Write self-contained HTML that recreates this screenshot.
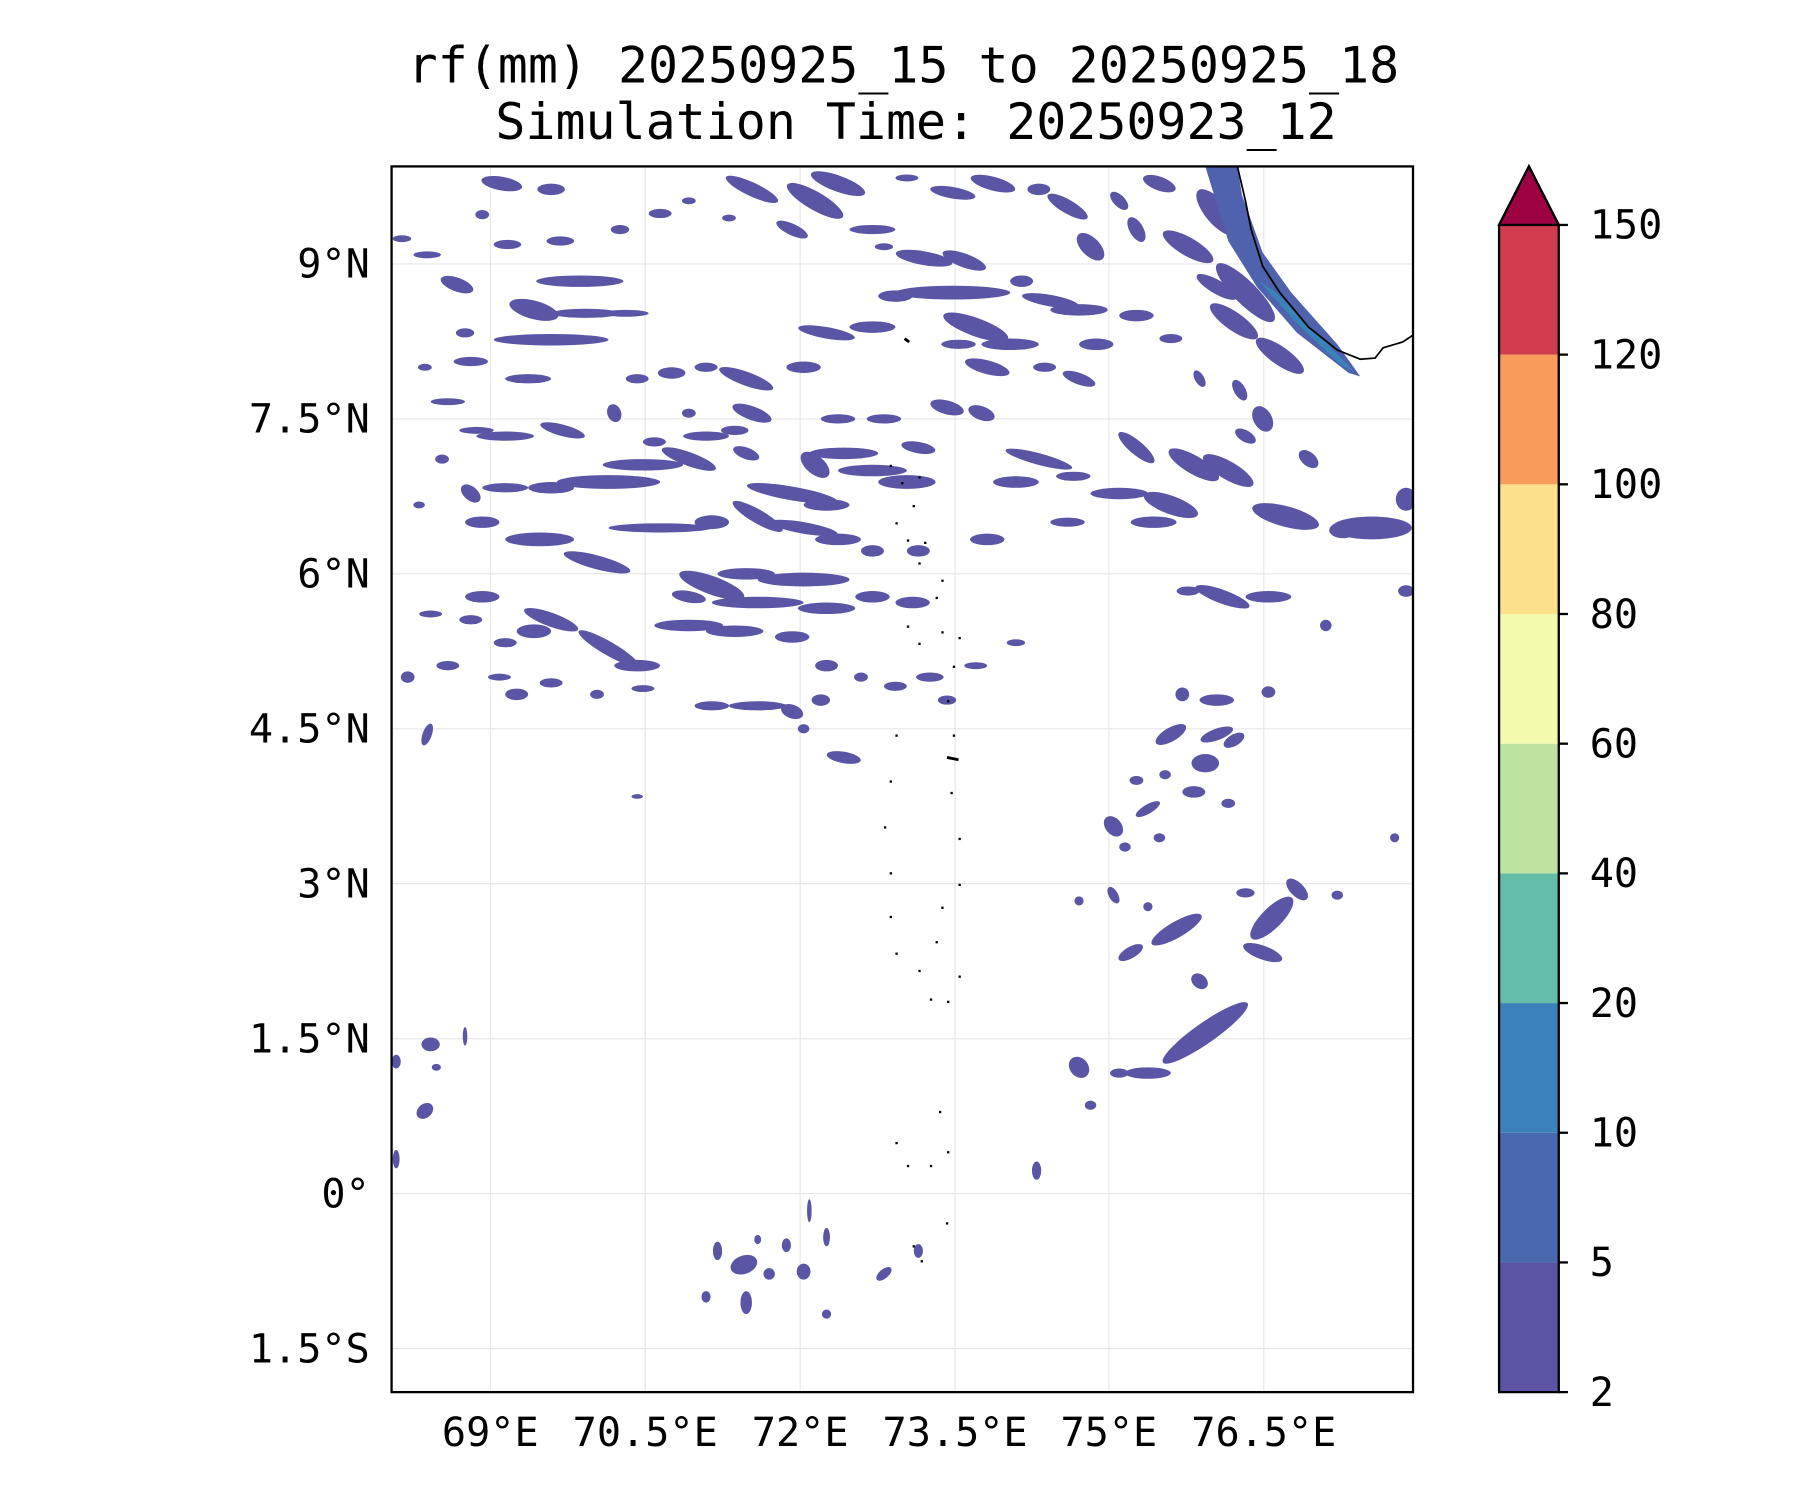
<!DOCTYPE html>
<html><head><meta charset="utf-8"><style>html,body{margin:0;padding:0;background:#fff}svg{display:block}</style></head>
<body>
<svg width="1800" height="1500" viewBox="0 0 1568 1307" xmlns="http://www.w3.org/2000/svg" font-family="'DejaVu Sans Mono','Liberation Mono',monospace">
<defs><clipPath id="c"><rect x="341" y="145" width="890" height="1068"/></clipPath></defs>
<text x="787" y="72" font-size="43.5" text-anchor="middle">rf(mm) 20250925_15 to 20250925_18</text>
<text x="798" y="121" font-size="43.5" text-anchor="middle">Simulation Time: 20250923_12</text>
<g stroke="#e6e6e6" stroke-width="1">
<line x1="427" y1="145" x2="427" y2="1213"/><line x1="562" y1="145" x2="562" y2="1213"/><line x1="697" y1="145" x2="697" y2="1213"/><line x1="832" y1="145" x2="832" y2="1213"/><line x1="966" y1="145" x2="966" y2="1213"/><line x1="1101" y1="145" x2="1101" y2="1213"/>
<line x1="341" y1="230" x2="1231" y2="230"/><line x1="341" y1="365" x2="1231" y2="365"/><line x1="341" y1="500" x2="1231" y2="500"/><line x1="341" y1="635" x2="1231" y2="635"/><line x1="341" y1="770" x2="1231" y2="770"/><line x1="341" y1="905" x2="1231" y2="905"/><line x1="341" y1="1040" x2="1231" y2="1040"/><line x1="341" y1="1175" x2="1231" y2="1175"/>
</g>
<g clip-path="url(#c)" fill="#5a55a5">
<ellipse cx="437" cy="160" rx="18" ry="6" transform="rotate(10 437 160)"/>
<ellipse cx="480" cy="165" rx="12" ry="5"/>
<ellipse cx="420" cy="187" rx="6" ry="4"/>
<ellipse cx="350" cy="208" rx="8" ry="3"/>
<ellipse cx="372" cy="222" rx="12" ry="3"/>
<ellipse cx="398" cy="248" rx="15" ry="6" transform="rotate(20 398 248)"/>
<ellipse cx="442" cy="213" rx="12" ry="4"/>
<ellipse cx="488" cy="210" rx="12" ry="4"/>
<ellipse cx="505" cy="245" rx="38" ry="5"/>
<ellipse cx="465" cy="270" rx="22" ry="8" transform="rotate(15 465 270)"/>
<ellipse cx="510" cy="273" rx="30" ry="4"/>
<ellipse cx="545" cy="273" rx="20" ry="3"/>
<ellipse cx="480" cy="296" rx="50" ry="5"/>
<ellipse cx="575" cy="186" rx="10" ry="4"/>
<ellipse cx="540" cy="200" rx="8" ry="4"/>
<ellipse cx="600" cy="175" rx="6" ry="3"/>
<ellipse cx="635" cy="190" rx="6" ry="3"/>
<ellipse cx="655" cy="165" rx="25" ry="6" transform="rotate(25 655 165)"/>
<ellipse cx="710" cy="175" rx="28" ry="8" transform="rotate(30 710 175)"/>
<ellipse cx="690" cy="200" rx="15" ry="5" transform="rotate(25 690 200)"/>
<ellipse cx="730" cy="160" rx="25" ry="7" transform="rotate(20 730 160)"/>
<ellipse cx="760" cy="200" rx="20" ry="4"/>
<ellipse cx="790" cy="155" rx="10" ry="3"/>
<ellipse cx="830" cy="168" rx="20" ry="5" transform="rotate(10 830 168)"/>
<ellipse cx="865" cy="160" rx="20" ry="6" transform="rotate(15 865 160)"/>
<ellipse cx="905" cy="165" rx="10" ry="5"/>
<ellipse cx="805" cy="225" rx="25" ry="6" transform="rotate(10 805 225)"/>
<ellipse cx="840" cy="227" rx="20" ry="6" transform="rotate(20 840 227)"/>
<ellipse cx="770" cy="215" rx="8" ry="3"/>
<ellipse cx="830" cy="255" rx="50" ry="6"/>
<ellipse cx="780" cy="258" rx="15" ry="5"/>
<ellipse cx="890" cy="245" rx="10" ry="5"/>
<ellipse cx="915" cy="262" rx="25" ry="5" transform="rotate(10 915 262)"/>
<ellipse cx="930" cy="180" rx="20" ry="6" transform="rotate(30 930 180)"/>
<ellipse cx="950" cy="215" rx="15" ry="8" transform="rotate(45 950 215)"/>
<ellipse cx="975" cy="175" rx="10" ry="5" transform="rotate(45 975 175)"/>
<ellipse cx="990" cy="200" rx="12" ry="6" transform="rotate(60 990 200)"/>
<ellipse cx="1010" cy="160" rx="15" ry="6" transform="rotate(20 1010 160)"/>
<ellipse cx="1035" cy="215" rx="25" ry="8" transform="rotate(30 1035 215)"/>
<ellipse cx="1060" cy="250" rx="20" ry="6" transform="rotate(30 1060 250)"/>
<ellipse cx="1060" cy="185" rx="25" ry="10" transform="rotate(50 1060 185)"/>
<ellipse cx="1075" cy="280" rx="25" ry="8" transform="rotate(35 1075 280)"/>
<ellipse cx="1115" cy="310" rx="25" ry="8" transform="rotate(35 1115 310)"/>
<ellipse cx="1085" cy="255" rx="35" ry="10" transform="rotate(45 1085 255)"/>
<ellipse cx="850" cy="285" rx="30" ry="8" transform="rotate(20 850 285)"/>
<ellipse cx="860" cy="320" rx="20" ry="6" transform="rotate(15 860 320)"/>
<ellipse cx="880" cy="300" rx="25" ry="5"/>
<ellipse cx="835" cy="300" rx="15" ry="4"/>
<ellipse cx="955" cy="300" rx="15" ry="5"/>
<ellipse cx="940" cy="270" rx="25" ry="5"/>
<ellipse cx="990" cy="275" rx="15" ry="5"/>
<ellipse cx="1020" cy="295" rx="10" ry="4"/>
<ellipse cx="1045" cy="330" rx="8" ry="4" transform="rotate(60 1045 330)"/>
<ellipse cx="1080" cy="340" rx="10" ry="5" transform="rotate(60 1080 340)"/>
<ellipse cx="1100" cy="365" rx="12" ry="8" transform="rotate(60 1100 365)"/>
<ellipse cx="910" cy="320" rx="10" ry="4"/>
<ellipse cx="940" cy="330" rx="15" ry="5" transform="rotate(20 940 330)"/>
<ellipse cx="855" cy="360" rx="12" ry="6" transform="rotate(20 855 360)"/>
<ellipse cx="825" cy="355" rx="15" ry="6" transform="rotate(15 825 355)"/>
<ellipse cx="760" cy="285" rx="20" ry="5"/>
<ellipse cx="720" cy="290" rx="25" ry="5" transform="rotate(10 720 290)"/>
<ellipse cx="700" cy="320" rx="15" ry="5"/>
<ellipse cx="650" cy="330" rx="25" ry="6" transform="rotate(20 650 330)"/>
<ellipse cx="615" cy="320" rx="10" ry="4"/>
<ellipse cx="585" cy="325" rx="12" ry="5"/>
<ellipse cx="555" cy="330" rx="10" ry="4"/>
<ellipse cx="535" cy="360" rx="8" ry="6" transform="rotate(70 535 360)"/>
<ellipse cx="490" cy="375" rx="20" ry="5" transform="rotate(15 490 375)"/>
<ellipse cx="440" cy="380" rx="25" ry="4"/>
<ellipse cx="415" cy="375" rx="15" ry="3"/>
<ellipse cx="390" cy="350" rx="15" ry="3"/>
<ellipse cx="370" cy="320" rx="6" ry="3"/>
<ellipse cx="405" cy="290" rx="8" ry="4"/>
<ellipse cx="410" cy="315" rx="15" ry="4"/>
<ellipse cx="460" cy="330" rx="20" ry="4"/>
<ellipse cx="655" cy="360" rx="18" ry="6" transform="rotate(20 655 360)"/>
<ellipse cx="640" cy="375" rx="12" ry="4"/>
<ellipse cx="615" cy="380" rx="20" ry="4"/>
<ellipse cx="600" cy="360" rx="6" ry="4"/>
<ellipse cx="570" cy="385" rx="10" ry="4"/>
<ellipse cx="730" cy="365" rx="15" ry="4"/>
<ellipse cx="770" cy="365" rx="15" ry="4"/>
<ellipse cx="800" cy="390" rx="15" ry="5" transform="rotate(10 800 390)"/>
<ellipse cx="735" cy="395" rx="30" ry="5"/>
<ellipse cx="710" cy="405" rx="15" ry="8" transform="rotate(40 710 405)"/>
<ellipse cx="650" cy="395" rx="12" ry="5" transform="rotate(20 650 395)"/>
<ellipse cx="600" cy="400" rx="25" ry="6" transform="rotate(20 600 400)"/>
<ellipse cx="560" cy="405" rx="35" ry="5"/>
<ellipse cx="530" cy="420" rx="45" ry="6"/>
<ellipse cx="480" cy="425" rx="20" ry="5"/>
<ellipse cx="440" cy="425" rx="20" ry="4"/>
<ellipse cx="410" cy="430" rx="10" ry="6" transform="rotate(40 410 430)"/>
<ellipse cx="385" cy="400" rx="6" ry="4"/>
<ellipse cx="365" cy="440" rx="5" ry="3"/>
<ellipse cx="420" cy="455" rx="15" ry="5"/>
<ellipse cx="470" cy="470" rx="30" ry="6"/>
<ellipse cx="520" cy="490" rx="30" ry="6" transform="rotate(15 520 490)"/>
<ellipse cx="575" cy="460" rx="45" ry="4"/>
<ellipse cx="620" cy="455" rx="15" ry="6"/>
<ellipse cx="660" cy="450" rx="25" ry="6" transform="rotate(30 660 450)"/>
<ellipse cx="690" cy="430" rx="40" ry="6" transform="rotate(10 690 430)"/>
<ellipse cx="720" cy="440" rx="20" ry="5"/>
<ellipse cx="760" cy="410" rx="30" ry="5"/>
<ellipse cx="790" cy="420" rx="25" ry="6"/>
<ellipse cx="700" cy="460" rx="30" ry="5" transform="rotate(10 700 460)"/>
<ellipse cx="730" cy="470" rx="20" ry="5"/>
<ellipse cx="760" cy="480" rx="10" ry="5"/>
<ellipse cx="800" cy="480" rx="10" ry="5"/>
<ellipse cx="620" cy="510" rx="30" ry="8" transform="rotate(20 620 510)"/>
<ellipse cx="650" cy="500" rx="25" ry="5"/>
<ellipse cx="700" cy="505" rx="40" ry="6"/>
<ellipse cx="600" cy="520" rx="15" ry="5" transform="rotate(10 600 520)"/>
<ellipse cx="660" cy="525" rx="40" ry="5"/>
<ellipse cx="720" cy="530" rx="25" ry="5"/>
<ellipse cx="760" cy="520" rx="15" ry="5"/>
<ellipse cx="795" cy="525" rx="15" ry="5"/>
<ellipse cx="480" cy="540" rx="25" ry="6" transform="rotate(20 480 540)"/>
<ellipse cx="465" cy="550" rx="15" ry="6"/>
<ellipse cx="530" cy="565" rx="30" ry="6" transform="rotate(30 530 565)"/>
<ellipse cx="555" cy="580" rx="20" ry="5"/>
<ellipse cx="600" cy="545" rx="30" ry="5"/>
<ellipse cx="640" cy="550" rx="25" ry="5"/>
<ellipse cx="690" cy="555" rx="15" ry="5"/>
<ellipse cx="420" cy="520" rx="15" ry="5"/>
<ellipse cx="410" cy="540" rx="10" ry="4"/>
<ellipse cx="375" cy="535" rx="10" ry="3"/>
<ellipse cx="440" cy="560" rx="10" ry="4"/>
<ellipse cx="390" cy="580" rx="10" ry="4"/>
<ellipse cx="355" cy="590" rx="6" ry="5"/>
<ellipse cx="435" cy="590" rx="10" ry="3"/>
<ellipse cx="480" cy="595" rx="10" ry="4"/>
<ellipse cx="450" cy="605" rx="10" ry="5"/>
<ellipse cx="520" cy="605" rx="6" ry="4"/>
<ellipse cx="560" cy="600" rx="10" ry="3"/>
<ellipse cx="620" cy="615" rx="15" ry="4"/>
<ellipse cx="660" cy="615" rx="25" ry="4"/>
<ellipse cx="690" cy="620" rx="10" ry="6" transform="rotate(20 690 620)"/>
<ellipse cx="735" cy="660" rx="15" ry="5" transform="rotate(10 735 660)"/>
<ellipse cx="700" cy="635" rx="5" ry="4"/>
<ellipse cx="720" cy="580" rx="10" ry="5"/>
<ellipse cx="715" cy="610" rx="8" ry="5"/>
<ellipse cx="750" cy="590" rx="6" ry="4"/>
<ellipse cx="780" cy="598" rx="10" ry="4"/>
<ellipse cx="810" cy="590" rx="12" ry="4"/>
<ellipse cx="825" cy="610" rx="8" ry="4"/>
<ellipse cx="850" cy="580" rx="10" ry="3"/>
<ellipse cx="885" cy="560" rx="8" ry="3"/>
<ellipse cx="860" cy="470" rx="15" ry="5"/>
<ellipse cx="885" cy="420" rx="20" ry="5"/>
<ellipse cx="905" cy="400" rx="30" ry="5" transform="rotate(15 905 400)"/>
<ellipse cx="935" cy="415" rx="15" ry="4"/>
<ellipse cx="930" cy="455" rx="15" ry="4"/>
<ellipse cx="975" cy="430" rx="25" ry="5"/>
<ellipse cx="1020" cy="440" rx="25" ry="8" transform="rotate(20 1020 440)"/>
<ellipse cx="1005" cy="455" rx="20" ry="5"/>
<ellipse cx="990" cy="390" rx="20" ry="6" transform="rotate(40 990 390)"/>
<ellipse cx="1040" cy="405" rx="25" ry="8" transform="rotate(30 1040 405)"/>
<ellipse cx="1070" cy="410" rx="25" ry="8" transform="rotate(30 1070 410)"/>
<ellipse cx="1085" cy="380" rx="10" ry="5" transform="rotate(30 1085 380)"/>
<ellipse cx="1140" cy="400" rx="10" ry="6" transform="rotate(40 1140 400)"/>
<ellipse cx="1120" cy="450" rx="30" ry="9" transform="rotate(15 1120 450)"/>
<ellipse cx="1195" cy="460" rx="35" ry="10"/>
<ellipse cx="1225" cy="435" rx="9" ry="10"/>
<ellipse cx="1225" cy="515" rx="7" ry="5"/>
<ellipse cx="1065" cy="520" rx="25" ry="6" transform="rotate(20 1065 520)"/>
<ellipse cx="1105" cy="520" rx="20" ry="5"/>
<ellipse cx="1035" cy="515" rx="10" ry="4"/>
<ellipse cx="1155" cy="545" rx="5" ry="5"/>
<ellipse cx="1030" cy="605" rx="6" ry="6"/>
<ellipse cx="1060" cy="610" rx="15" ry="5"/>
<ellipse cx="1105" cy="603" rx="6" ry="5"/>
<ellipse cx="1020" cy="640" rx="15" ry="6" transform="rotate(-30 1020 640)"/>
<ellipse cx="1060" cy="640" rx="15" ry="5" transform="rotate(-20 1060 640)"/>
<ellipse cx="1075" cy="645" rx="10" ry="5" transform="rotate(-30 1075 645)"/>
<ellipse cx="1050" cy="665" rx="12" ry="8"/>
<ellipse cx="1015" cy="675" rx="5" ry="4"/>
<ellipse cx="1040" cy="690" rx="10" ry="5"/>
<ellipse cx="1070" cy="700" rx="6" ry="4"/>
<ellipse cx="990" cy="680" rx="6" ry="4"/>
<ellipse cx="970" cy="720" rx="10" ry="7" transform="rotate(50 970 720)"/>
<ellipse cx="1000" cy="705" rx="12" ry="4" transform="rotate(-30 1000 705)"/>
<ellipse cx="980" cy="738" rx="5" ry="4"/>
<ellipse cx="1010" cy="730" rx="5" ry="4"/>
<ellipse cx="1215" cy="730" rx="4" ry="4"/>
<ellipse cx="940" cy="785" rx="4" ry="4"/>
<ellipse cx="970" cy="780" rx="8" ry="4" transform="rotate(60 970 780)"/>
<ellipse cx="1000" cy="790" rx="4" ry="4"/>
<ellipse cx="1025" cy="810" rx="25" ry="7" transform="rotate(-30 1025 810)"/>
<ellipse cx="985" cy="830" rx="12" ry="5" transform="rotate(-30 985 830)"/>
<ellipse cx="1045" cy="855" rx="8" ry="6" transform="rotate(40 1045 855)"/>
<ellipse cx="1108" cy="800" rx="25" ry="9" transform="rotate(-45 1108 800)"/>
<ellipse cx="1100" cy="830" rx="18" ry="6" transform="rotate(20 1100 830)"/>
<ellipse cx="1130" cy="775" rx="12" ry="6" transform="rotate(45 1130 775)"/>
<ellipse cx="1085" cy="778" rx="8" ry="4"/>
<ellipse cx="1165" cy="780" rx="5" ry="4"/>
<ellipse cx="1050" cy="900" rx="45" ry="9" transform="rotate(-35 1050 900)"/>
<ellipse cx="1000" cy="935" rx="20" ry="5"/>
<ellipse cx="975" cy="935" rx="8" ry="4"/>
<ellipse cx="940" cy="930" rx="10" ry="8" transform="rotate(50 940 930)"/>
<ellipse cx="950" cy="963" rx="5" ry="4"/>
<ellipse cx="903" cy="1020" rx="4" ry="8"/>
<ellipse cx="375" cy="910" rx="8" ry="6"/>
<ellipse cx="345" cy="925" rx="4" ry="6"/>
<ellipse cx="370" cy="968" rx="8" ry="6" transform="rotate(-40 370 968)"/>
<ellipse cx="380" cy="930" rx="4" ry="3"/>
<ellipse cx="405" cy="903" rx="2" ry="8"/>
<ellipse cx="720" cy="1145" rx="4" ry="4"/>
<ellipse cx="648" cy="1102" rx="12" ry="8" transform="rotate(-20 648 1102)"/>
<ellipse cx="625" cy="1090" rx="4" ry="8"/>
<ellipse cx="615" cy="1130" rx="4" ry="5"/>
<ellipse cx="650" cy="1135" rx="5" ry="10"/>
<ellipse cx="670" cy="1110" rx="5" ry="5"/>
<ellipse cx="685" cy="1085" rx="4" ry="6"/>
<ellipse cx="700" cy="1108" rx="6" ry="7"/>
<ellipse cx="720" cy="1078" rx="3" ry="8"/>
<ellipse cx="660" cy="1080" rx="3" ry="4"/>
<ellipse cx="705" cy="1055" rx="2" ry="10"/>
<ellipse cx="770" cy="1110" rx="8" ry="4" transform="rotate(-40 770 1110)"/>
<ellipse cx="800" cy="1090" rx="4" ry="6"/>
<ellipse cx="555" cy="694" rx="5" ry="2"/>
<ellipse cx="372" cy="640" rx="4" ry="10" transform="rotate(20 372 640)"/>
<ellipse cx="345" cy="1010" rx="3" ry="8"/>
<ellipse cx="1170" cy="462" rx="12" ry="7"/>
</g>
<g clip-path="url(#c)">
<path d="M1050,145 L1070,210 L1095,250 L1130,290 L1175,325 L1185,328 L1165,300 L1125,255 L1100,220 L1082,170 L1078,145 Z" fill="#4e62ad"/>
<path d="M1097,245 L1130,282 L1168,318 L1180,324 L1150,293 L1112,255 Z" fill="#3a83b9"/>
<path d="M1078,145 L1085,175 L1090,200 L1100,232 L1115,255 L1140,285 L1165,305 L1185,313 L1198,312 L1205,303 L1222,298 L1231,292" fill="none" stroke="#000" stroke-width="1.5"/>
<g fill="#000">
<rect x="775" y="405" width="2" height="2"/><rect x="785" y="420" width="2" height="2"/><rect x="800" y="415" width="2" height="2"/><rect x="795" y="440" width="2" height="2"/><rect x="780" y="455" width="2" height="2"/><rect x="790" y="470" width="2" height="2"/><rect x="805" y="472" width="2" height="2"/><rect x="800" y="490" width="2" height="2"/><rect x="820" y="505" width="2" height="2"/><rect x="815" y="520" width="2" height="2"/>
<rect x="790" y="545" width="2" height="2"/><rect x="800" y="560" width="2" height="2"/><rect x="820" y="550" width="2" height="2"/><rect x="835" y="555" width="2" height="2"/><rect x="830" y="580" width="2" height="2"/><rect x="825" y="610" width="2" height="2"/><rect x="830" y="640" width="2" height="2"/><rect x="828" y="690" width="2" height="2"/>
<rect x="780" y="640" width="2" height="2"/><rect x="775" y="680" width="2" height="2"/><rect x="770" y="720" width="2" height="2"/><rect x="775" y="760" width="2" height="2"/><rect x="775" y="798" width="2" height="2"/><rect x="780" y="830" width="2" height="2"/><rect x="800" y="845" width="2" height="2"/><rect x="815" y="820" width="2" height="2"/><rect x="820" y="790" width="2" height="2"/><rect x="835" y="730" width="2" height="2"/><rect x="835" y="770" width="2" height="2"/>
<rect x="810" y="870" width="2" height="2"/><rect x="825" y="872" width="2" height="2"/><rect x="835" y="850" width="2" height="2"/>
<rect x="780" y="995" width="2" height="2"/><rect x="790" y="1015" width="2" height="2"/><rect x="810" y="1015" width="2" height="2"/><rect x="825" y="1003" width="2" height="2"/><rect x="818" y="968" width="2" height="2"/>
<rect x="795" y="1085" width="2" height="2"/><rect x="802" y="1098" width="2" height="2"/><rect x="824" y="1065" width="2" height="2"/>
</g>
<path d="M788,295 L792,298 M825,660 L835,662" stroke="#000" stroke-width="2.5"/>
</g>
<rect x="341" y="145" width="890" height="1068" fill="none" stroke="#000" stroke-width="2"/>
<g font-size="35">
<g text-anchor="end">
<text x="322" y="242">9°N</text><text x="322" y="377">7.5°N</text><text x="322" y="512">6°N</text><text x="322" y="647">4.5°N</text><text x="322" y="782">3°N</text><text x="322" y="917">1.5°N</text><text x="322" y="1052">0°</text><text x="322" y="1187">1.5°S</text>
</g>
<g text-anchor="middle">
<text x="427" y="1260">69°E</text><text x="562" y="1260">70.5°E</text><text x="697" y="1260">72°E</text><text x="832" y="1260">73.5°E</text><text x="966" y="1260">75°E</text><text x="1101" y="1260">76.5°E</text>
</g>
</g>
<g>
<rect x="1306" y="1100" width="52" height="113" fill="#5b53a4"/>
<rect x="1306" y="987" width="52" height="113" fill="#4a68ae"/>
<rect x="1306" y="874" width="52" height="113" fill="#3a82b9"/>
<rect x="1306" y="761" width="52" height="113" fill="#63bda9"/>
<rect x="1306" y="648" width="52" height="113" fill="#bde3a0"/>
<rect x="1306" y="535" width="52" height="113" fill="#f3faae"/>
<rect x="1306" y="422" width="52" height="113" fill="#fde08b"/>
<rect x="1306" y="309" width="52" height="113" fill="#f99b5a"/>
<rect x="1306" y="196" width="52" height="113" fill="#d33c4e"/>
<path d="M1306,1213 L1306,196 L1332,145 L1358,196 L1358,1213 Z" fill="none" stroke="#000" stroke-width="2"/>
<path d="M1306,196 L1332,145 L1358,196 Z" fill="#9e0142" stroke="#000" stroke-width="2"/>
<g stroke="#000" stroke-width="2">
<line x1="1358" y1="196" x2="1366" y2="196"/><line x1="1358" y1="309" x2="1366" y2="309"/><line x1="1358" y1="422" x2="1366" y2="422"/><line x1="1358" y1="535" x2="1366" y2="535"/><line x1="1358" y1="648" x2="1366" y2="648"/><line x1="1358" y1="761" x2="1366" y2="761"/><line x1="1358" y1="874" x2="1366" y2="874"/><line x1="1358" y1="987" x2="1366" y2="987"/><line x1="1358" y1="1100" x2="1366" y2="1100"/><line x1="1358" y1="1213" x2="1366" y2="1213"/>
</g>
<g font-size="35">
<text x="1385" y="208">150</text><text x="1385" y="321">120</text><text x="1385" y="434">100</text><text x="1385" y="547">80</text><text x="1385" y="660">60</text><text x="1385" y="773">40</text><text x="1385" y="886">20</text><text x="1385" y="999">10</text><text x="1385" y="1112">5</text><text x="1385" y="1225">2</text>
</g>
</g>
</svg>
</body></html>
